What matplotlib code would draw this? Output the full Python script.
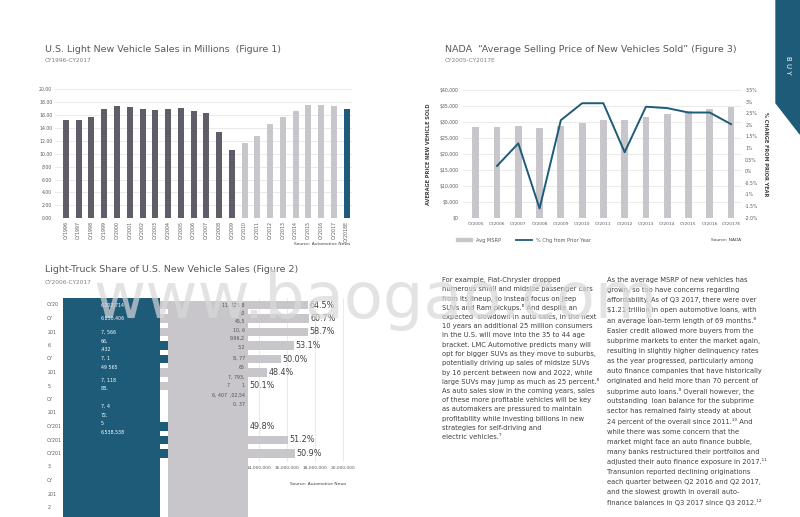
import matplotlib
matplotlib.use('Agg')
from matplotlib import pyplot as plt
from matplotlib.patches import Polygon, Patch
from matplotlib.lines import Line2D
import numpy as np

W, H = 800, 517
DARK = '#605c68'
LIGHT = '#c8c6cb'
TEAL = '#1d5b79'
GRID = '#e6e6e6'
TXT = '#595959'

# Figure 1 data
sales_years = ['CY1996', 'CY1997', 'CY1998', 'CY1999', 'CY2000', 'CY2001', 'CY2002', 'CY2003',
               'CY2004', 'CY2005', 'CY2006', 'CY2007', 'CY2008', 'CY2009', 'CY2010', 'CY2011',
               'CY2012', 'CY2013', 'CY2014', 'CY2015', 'CY2016', 'CY2017', 'CY2018E']
sales = [15.2, 15.2, 15.7, 16.9, 17.4, 17.2, 16.9, 16.7, 16.9, 17.0, 16.6, 16.3,
         13.3, 10.6, 11.7, 12.7, 14.6, 15.7, 16.6, 17.5, 17.5, 17.3, 16.9]
sales_group = ['dark'] * 14 + ['light'] * 8 + ['teal']
sales_yticks = [0, 2, 4, 6, 8, 10, 12, 14, 16, 18, 20]

# Figure 3 data
asp_years = ['CY2005', 'CY2006', 'CY2007', 'CY2008', 'CY2009', 'CY2010', 'CY2011',
             'CY2012', 'CY2013', 'CY2014', 'CY2015', 'CY2016', 'CY2017E']
avg_msrp = [28400, 28400, 28800, 28100, 28800, 29700, 30600, 30600, 31600, 32500, 33300, 34100, 34700]
pct_chg = [np.nan, 0.23, 1.2, -1.6, 2.2, 2.93, 2.93, 0.82, 2.78, 2.72, 2.53, 2.53, 2.03]
asp_yticks = [0, 5000, 10000, 15000, 20000, 25000, 30000, 35000, 40000]
pct_ticks = [-2.0, -1.5, -1.0, -0.5, 0, 0.5, 1.0, 1.5, 2.0, 2.5, 3.0, 3.5]
pct_labels = ['-2.0%', '-1.5%', '-1%', '-0.5%', '0%', '0.5%', '1%', '1.5%', '2%', '2.5%', '3%', '3.5%']

# Figure 2 data (the original rendering is broken; reproduce what is visible)
truck_slots = [0, 1, 2, 3, 4, 5, 6, 9, 10, 11]
total_sales = [17.5e6, 17.6e6, 17.5e6, 16.5e6, 15.6e6, 14.6e6, 13.2e6, 13.2e6, 16.1e6, 16.6e6]
truck_share = ['64.5%', '60.7%', '58.7%', '53.1%', '50.0%', '48.4%', '50.1%', '49.8%', '51.2%', '50.9%']
stub_slots = [3, 4, 9, 10, 11]
car_block = 6.9e6
truck_block = (7.5e6, 13.2e6)
row_labels = ['CY20', 'CY', '201', '6', 'CY', '201', '5', 'CY', '201',
              'CY201', 'CY201', 'CY201', '3', 'CY', '201', '2']
teal_texts = [(0, '6,202,714'), (1, '6,850,406'), (2, '7, 566'), (2.65, '66,'), (3.25, ',432'),
              (3.95, '7, 1'), (4.6, '49 565'), (5.55, '7, 118'), (6.2, '88,'), (7.5, '7, 4'),
              (8.15, '72,'), (8.75, '5'), (9.45, '6,538,538')]
gray_texts = [(0, '11, 125 8'), (0.6, ',0'), (1.2, '45,5'), (1.85, '10, 6'), (2.5, '9,96,2'),
              (3.1, '3,2'), (3.95, '8, 77'), (4.6, '65'), (5.35, '7, 793,'), (5.95, '7        1'),
              (6.7, '6, 407  ,02,54'), (7.35, '0, 37')]
fig2_xticks = [14e6, 16e6, 18e6, 20e6]

col1 = ["For example, Fiat-Chrysler dropped",
        "numerous small and midsize passenger cars",
        "from its lineup, to instead focus on Jeep",
        "SUVs and Ram pickups.\u2076 And despite an",
        "expected  slowdown in auto sales, in the next",
        "10 years an additional 25 million consumers",
        "in the U.S. will move into the 35 to 44 age",
        "bracket. LMC Automotive predicts many will",
        "opt for bigger SUVs as they move to suburbs,",
        "potentially driving up sales of midsize SUVs",
        "by 16 percent between now and 2022, while",
        "large SUVs may jump as much as 25 percent.\u2078",
        "As auto sales slow in the coming years, sales",
        "of these more profitable vehicles will be key",
        "as automakers are pressured to maintain",
        "profitability while investing billions in new",
        "strategies for self-driving and",
        "electric vehicles.\u2077"]
col2 = ["As the average MSRP of new vehicles has",
        "grown, so too have concerns regarding",
        "affordability. As of Q3 2017, there were over",
        "$1.21 trillion in open automotive loans, with",
        "an average loan-term length of 69 months.\u2078",
        "Easier credit allowed more buyers from the",
        "subprime markets to enter the market again,",
        "resulting in slightly higher delinquency rates",
        "as the year progressed, particularly among",
        "auto finance companies that have historically",
        "originated and held more than 70 percent of",
        "subprime auto loans.\u2079 Overall however, the",
        "outstanding  loan balance for the subprime",
        "sector has remained fairly steady at about",
        "24 percent of the overall since 2011.\u00b9\u2070 And",
        "while there was some concern that the",
        "market might face an auto finance bubble,",
        "many banks restructured their portfolios and",
        "adjusted their auto finance exposure in 2017.\u00b9\u00b9",
        "Transunion reported declining originations",
        "each quarter between Q2 2016 and Q2 2017,",
        "and the slowest growth in overall auto-",
        "finance balances in Q3 2017 since Q3 2012.\u00b9\u00b2"]

plt.rcParams['font.family'] = ['DejaVu Sans']
fig = plt.figure(figsize=(W / 100, H / 100), dpi=100)


def px_axes(l, t, r, b):
    return fig.add_axes([l / W, 1 - b / H, (r - l) / W, (b - t) / H])


def px_text(x, y, s, **kw):
    return fig.text(x / W, 1 - y / H, s, **kw)


def clean(ax):
    for s in ax.spines.values():
        s.set_visible(False)
    ax.tick_params(length=0)


# ---------- Figure 1 ----------
px_text(45, 49, 'U.S. Light New Vehicle Sales in Millions  (Figure 1)', fontsize=6.8, color=TXT, va='center')
px_text(45, 61, 'CY1996-CY2017', fontsize=4.2, color='#808080', va='center')
ax1 = px_axes(55, 89, 352, 218.3)
cmap = {'dark': DARK, 'light': LIGHT, 'teal': TEAL}
x1 = np.arange(len(sales))
ax1.bar(x1, sales, width=0.47, color=[cmap[g] for g in sales_group], zorder=2)
ax1.set_xlim(-0.86, len(sales) - 0.58)
ax1.set_ylim(0, 20)
ax1.set_yticks(sales_yticks)
ax1.set_yticklabels(['%.2f' % v for v in sales_yticks], fontsize=3.3, color=TXT)
ax1.set_xticks(x1)
ax1.set_xticklabels(sales_years, rotation=90, fontsize=3.4, color=TXT)
ax1.yaxis.grid(True, color=GRID, lw=0.6, zorder=0)
ax1.tick_params(pad=2)
clean(ax1)
px_text(350, 244, 'Source: Automotive News', fontsize=3.2, color='#404040', ha='right', va='center')

# ---------- Figure 3 ----------
px_text(445, 49, 'NADA  \u201cAverage Selling Price of New Vehicles Sold\u201d (Figure 3)', fontsize=6.8,
        color=TXT, va='center')
px_text(445, 61, 'CY2005-CY2017E', fontsize=4.2, color='#808080', va='center')
ax3 = px_axes(463, 90, 741, 217.7)
x3 = np.arange(len(avg_msrp))
ax3.bar(x3, avg_msrp, width=0.32, color=LIGHT, zorder=2)
ax3.set_xlim(-0.6, len(avg_msrp) - 0.53)
ax3.set_ylim(0, 40000)
ax3.set_yticks(asp_yticks)
ax3.set_yticklabels(['$%s' % format(v, ',') for v in asp_yticks], fontsize=3.3, color=TXT)
ax3.set_xticks(x3)
ax3.set_xticklabels(asp_years, fontsize=3.2, color=TXT)
ax3.yaxis.grid(True, color=GRID, lw=0.6, zorder=0)
ax3.tick_params(pad=3)
clean(ax3)
ax3.set_ylabel('AVERAGE PRICE NEW VEHICLE SOLD', fontsize=3.6, color='#404040', fontweight='bold', labelpad=6)
ax3r = ax3.twinx()
ax3r.plot(x3, pct_chg, color=TEAL, lw=1.4, zorder=3)
ax3r.set_ylim(-2.0, 3.5)
ax3r.set_yticks(pct_ticks)
ax3r.set_yticklabels(pct_labels, fontsize=3.3, color=TXT)
ax3r.set_ylabel('% CHANGE FROM PRIOR YEAR', fontsize=3.6, color='#404040', fontweight='bold',
                rotation=270, labelpad=7)
ax3r.tick_params(pad=3)
clean(ax3r)
leg = ax3.legend(handles=[Patch(color=LIGHT, label='Avg MSRP'),
                          Line2D([], [], color=TEAL, lw=1.3, label='% Chg from Prior Year')],
                 loc='upper left', bbox_to_anchor=(-0.04, -0.12), ncol=2, frameon=False,
                 fontsize=3.6, handlelength=3.2, columnspacing=3, handleheight=0.6)
for t in leg.get_texts():
    t.set_color(TXT)
px_text(741, 240, 'Source: NADA', fontsize=3.2, color='#404040', ha='right', va='center')

# ---------- Figure 2 ----------
px_text(45, 270, 'Light-Truck Share of U.S. New Vehicle Sales (Figure 2)', fontsize=6.8, color=TXT, va='center')
px_text(45, 282, 'CY2006-CY2017', fontsize=4.2, color='#808080', va='center')
slot = 13.5
ax2 = px_axes(63, 298, 350, 462)
ax2.set_xlim(0, 20.5e6)
y_top = -7 / slot
y_bot = (462 - 305) / slot
ax2.set_ylim(y_bot, y_top)
bottom_slot = (517 - 305) / slot + 0.5
ax2.barh((y_top + bottom_slot) / 2, car_block, height=bottom_slot - y_top, color=TEAL,
         align='center', clip_on=False, zorder=2)
gtop = -3 / slot
ax2.barh((gtop + bottom_slot) / 2, truck_block[1] - truck_block[0], left=truck_block[0],
         height=bottom_slot - gtop, color=LIGHT, clip_on=False, zorder=2)
ax2.barh(truck_slots, [t - car_block for t in total_sales], left=car_block, height=0.6,
         color=LIGHT, zorder=2)
ax2.barh(stub_slots, truck_block[0] - car_block, left=car_block, height=0.6, color=TEAL, zorder=3)
for s, tot, lab in zip(truck_slots, total_sales, truck_share):
    ax2.text(tot + 0.1e6, s, lab, fontsize=5.8, color='#404040', va='center', ha='left',
             family=['Liberation Sans Narrow', 'DejaVu Sans'])
ax2.set_xticks(fig2_xticks)
ax2.set_xticklabels([format(int(v), ',') for v in fig2_xticks], fontsize=3.2, color=TXT)
ax2.set_yticks([])
ax2.xaxis.grid(True, color=GRID, lw=0.6, zorder=0)
ax2.tick_params(pad=3)
clean(ax2)
for i, lab in enumerate(row_labels):
    ax2.text(-0.055, i, lab, transform=ax2.get_yaxis_transform(), fontsize=3.4, color=TXT,
             va='center', ha='left', clip_on=False)
for s, lab in teal_texts:
    ax2.text(2.7e6, s, lab, fontsize=3.4, color='white', va='center', ha='left', zorder=4, clip_on=False)
for s, lab in gray_texts:
    ax2.text(truck_block[1] - 0.2e6, s, lab, fontsize=3.4, color='#505050', va='center', ha='right', zorder=4)
px_text(346, 484, 'Source: Automotive News', fontsize=3.2, color='#404040', ha='right', va='center')

# ---------- body text ----------
for i, line in enumerate(col1):
    px_text(442, 280 + i * 9.25, line, fontsize=4.9, color='#404040', va='center')
for i, line in enumerate(col2):
    px_text(607, 280 + i * 10.1, line, fontsize=4.9, color='#404040', va='center')

# ---------- BUY tab ----------
tab = Polygon([(776 / W, 1), (1, 1), (1, 1 - 134 / H), (776 / W, 1 - 103 / H)],
              closed=True, transform=fig.transFigure, color=TEAL)
fig.patches.append(tab)
px_text(788, 65, 'B U Y', fontsize=5, color='white', rotation=270, ha='center', va='center')

# watermark
px_text(375, 300, 'www.baogao.com', fontsize=46, color='#d8d8d8', alpha=0.7, ha='center',
        va='center', zorder=10)

fig.savefig('out.png', dpi=100)
